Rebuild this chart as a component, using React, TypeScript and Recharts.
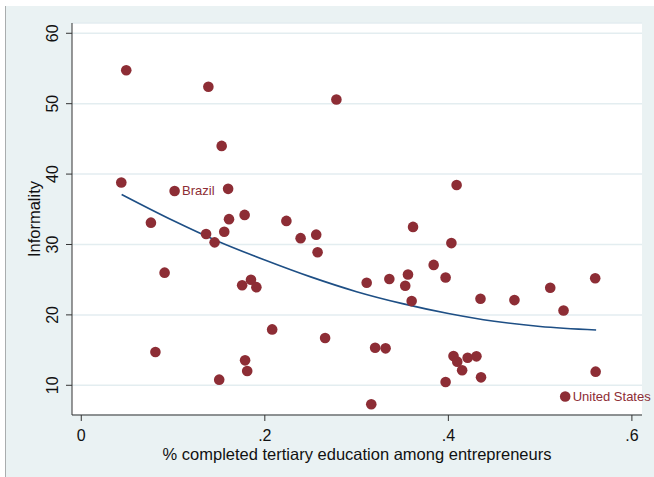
import { ComposedChart, Scatter, Line, XAxis, YAxis, CartesianGrid, LabelList } from 'recharts';

// share of entrepreneurs with completed tertiary education (x) and informality (y)
const educationShare = [
  0.049, 0.1385, 0.278, 0.153, 0.0436, 0.16, 0.409, 0.178, 0.161, 0.0759,
  0.2235, 0.3615, 0.136, 0.1558, 0.256, 0.239, 0.1453, 0.4033, 0.2575, 0.384,
  0.0908, 0.356, 0.3357, 0.397, 0.56, 0.1849, 0.1753, 0.1908, 0.311, 0.353,
  0.511, 0.435, 0.472, 0.36, 0.5255, 0.208, 0.2657, 0.0808, 0.3202, 0.3316,
  0.4056, 0.4097, 0.421, 0.4306, 0.1785, 0.1808, 0.415, 0.5605, 0.4356, 0.1503,
  0.397, 0.316,
];
const informality = [
  54.75, 52.4, 50.6, 44.0, 38.8, 37.9, 38.45, 34.2, 33.6, 33.1,
  33.35, 32.5, 31.5, 31.8, 31.4, 30.9, 30.3, 30.2, 28.9, 27.1,
  26.0, 25.74, 25.1, 25.3, 25.2, 25.0, 24.2, 23.94, 24.56, 24.13,
  23.85, 22.3, 22.1, 21.96, 20.63, 17.94, 16.71, 14.73, 15.34, 15.25,
  14.16, 13.36, 13.92, 14.11, 13.54, 12.03, 12.13, 11.94, 11.13, 10.8,
  10.47, 7.3,
];

// labelled countries
const labelNames = ['Brazil', 'United States'];
const labelShare = [0.1017, 0.5273];
const labelInformality = [37.6, 8.4];

// fitted curve
const fitShare = [0.044, 0.1, 0.15, 0.2, 0.25, 0.3, 0.35, 0.4, 0.45, 0.5, 0.561];
const fitInformality = [37.1, 33.4, 30.4, 27.8, 25.4, 23.3, 21.6, 20.2, 19.1, 18.35, 17.85];

const xTicks = [0, 0.2, 0.4, 0.6];
const yTicks = [10, 20, 30, 40, 50, 60];

const MAROON = '#8d2d35';
const FONT = '"Liberation Sans", Arial, sans-serif';

const points = educationShare.map((x, i) => ({ x, y: informality[i] }));
const labelled = labelNames.map((name, i) => ({ x: labelShare[i], y: labelInformality[i], name }));
const fit = fitShare.map((x, i) => ({ x, y: fitInformality[i] }));

const Dot = (props: any) => <circle cx={props.cx} cy={props.cy} r={5.3} fill={MAROON} />;

const YTick = ({ x, y, payload }: any) => (
  <text
    x={x - 5.5}
    y={y}
    transform={`rotate(-90 ${x - 5.5} ${y})`}
    textAnchor="middle"
    fontSize={16}
    fontFamily={FONT}
    fill="#111"
  >
    {payload.value}
  </text>
);

const fmtX = (v: number) => (v === 0 ? '0' : String(v).replace(/^0/, ''));

export default function App() {
  return (
    <div style={{ position: 'absolute', left: 0, top: 0, width: 654, height: 477, background: '#fff' }}>
      <div
        style={{
          position: 'absolute',
          left: 5,
          top: 6,
          width: 648,
          height: 471,
          background: '#eaf2f3',
          borderLeft: '1px solid #a9adae',
        }}
      />
      <div style={{ position: 'absolute', left: 0, top: 0 }}>
        <ComposedChart width={654} height={477} margin={{ top: 23, right: 12, bottom: 20, left: 0 }}>
          <CartesianGrid vertical={false} stroke="#e3edf0" strokeWidth={1.5} fill="#ffffff" />
          <XAxis
            type="number"
            dataKey="x"
            domain={[-0.0101, 0.611]}
            ticks={xTicks}
            tickFormatter={fmtX}
            allowDataOverflow
            height={42}
            stroke="#333"
            tickSize={6}
            tickMargin={9}
            tick={{ fontSize: 16, fontFamily: FONT, fill: '#111' }}
            label={{
              content: ({ viewBox }: any) => (
                <text
                  x={viewBox.x + viewBox.width / 2}
                  y={viewBox.y + 45}
                  textAnchor="middle"
                  fontSize={16.5}
                  fontFamily={FONT}
                  fill="#111"
                >
                  % completed tertiary education among entrepreneurs
                </text>
              ),
            }}
          />
          <YAxis
            type="number"
            dataKey="y"
            domain={[5.78, 61.46]}
            ticks={yTicks}
            allowDataOverflow
            width={72}
            stroke="#333"
            tickSize={6}
            tick={<YTick />}
            label={{
              content: ({ viewBox }: any) => {
                const cx = 40;
                const cy = viewBox.y + viewBox.height / 2;
                return (
                  <text
                    x={cx}
                    y={cy}
                    transform={`rotate(-90 ${cx} ${cy})`}
                    textAnchor="middle"
                    fontSize={16.5}
                    fontFamily={FONT}
                    fill="#111"
                  >
                    Informality
                  </text>
                );
              },
            }}
          />
          <Scatter data={points} dataKey="y" shape={<Dot />} isAnimationActive={false} />
          <Scatter data={labelled} dataKey="y" shape={<Dot />} isAnimationActive={false}>
            <LabelList
              dataKey="name"
              content={(p: any) => (
                <text
                  x={p.x + p.width / 2 + 7.5}
                  y={p.y + p.height / 2}
                  dominantBaseline="central"
                  fontSize={13}
                  fontFamily={FONT}
                  fill={MAROON}
                >
                  {p.value}
                </text>
              )}
            />
          </Scatter>
          <Line
            data={fit}
            dataKey="y"
            type="monotone"
            stroke="#1e4f85"
            strokeWidth={1.6}
            dot={false}
            activeDot={false}
            isAnimationActive={false}
          />
        </ComposedChart>
      </div>
    </div>
  );
}
